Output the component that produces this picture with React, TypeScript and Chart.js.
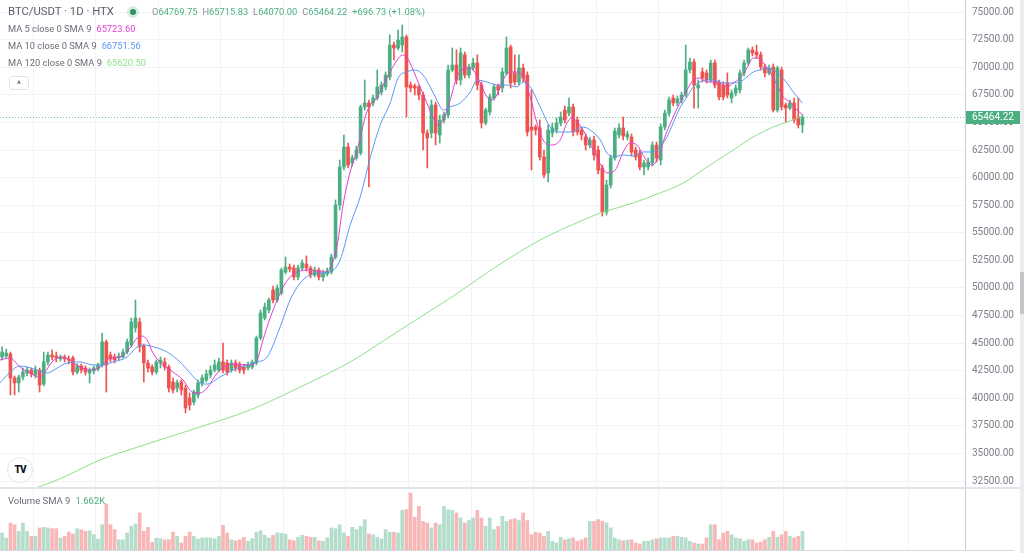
import React, { useEffect, useRef } from 'react';
import { Chart, registerables } from 'chart.js';

Chart.register(...registerables);

// ---------- DATA ----------
const openPrices = [
  43750, 43840, 44020, 41850, 41400, 41940, 42300, 42570, 42120, 42570,
  41300, 43300, 43930, 43840, 43570, 43750, 43570, 43660, 42390, 42940,
  42750, 42300, 42480, 42660, 43030, 45110, 43930, 43750, 43660, 43750,
  44200, 44840, 46380, 46920, 44750, 43210, 42840, 42390, 43210, 43300,
  42840, 41490, 40940, 41490, 40940, 40040, 39670, 40310, 41400, 41670,
  42120, 42570, 42570, 43300, 43210, 42570, 43210, 43030, 42840, 42750,
  42840, 43210, 45470, 47280, 48010, 49820, 48910, 49550, 51450, 51900,
  51810, 51000, 51810, 52170, 51810, 51180, 51630, 51000, 51270, 51450,
  52810, 57520, 60960, 62770, 61320, 61780, 62230, 66400, 66760, 66760,
  67210, 67750, 68210, 69110, 72010, 71740, 72010, 72740, 68390, 68300,
  68210, 67480, 64040, 64040, 66580, 63860, 65220, 65670, 69750, 70200,
  68840, 71110, 69290, 69930, 70380, 68390, 64950, 65940, 67210, 68300,
  68120, 69480, 71830, 69480, 68660, 69930, 69290, 64580, 64580, 64490,
  61870, 60420, 64040, 64310, 64950, 66120, 65850, 66400, 65220, 64310,
  63680, 62950, 63410, 62500, 60870, 56880, 59330, 61780, 63860, 64490,
  63680, 63680, 62500, 62230, 60960, 60960, 61320, 62950, 61590, 64580,
  65850, 67210, 66760, 67030, 67480, 69750, 70470, 68120, 69570, 69480,
  68840, 70380, 68570, 68390, 68570, 67210, 67660, 67940, 69480, 70380,
  71560, 71380, 71110, 70020, 69480, 70020, 66120, 69750, 66580, 66300,
  66760, 65490, 64769.75,
];
const highPrices = [
  44660, 44470, 44200, 42030, 42120, 42750, 42840, 42750, 42940, 42750,
  44200, 44200, 44380, 44200, 43930, 43930, 43840, 43840, 43120, 43120,
  42940, 42750, 42940, 43210, 45920, 45290, 44200, 44020, 44110, 44470,
  45380, 47280, 48910, 47280, 44930, 43480, 43030, 43480, 43750, 43660,
  43030, 41850, 41670, 41670, 41210, 40490, 40760, 41670, 42120, 42570,
  42940, 43480, 43660, 45020, 43480, 43480, 43480, 43300, 43030, 43300,
  43480, 45650, 48010, 48640, 49090, 50180, 50270, 51810, 52810, 52170,
  52080, 52080, 52540, 52900, 51990, 51900, 51810, 51630, 51810, 53080,
  57970, 61590, 63860, 63130, 62050, 62860, 66580, 68840, 67030, 67480,
  69750, 68660, 69570, 72920, 72280, 73370, 73820, 72920, 68660, 68480,
  68390, 67750, 64310, 67030, 66850, 65670, 65940, 70200, 71740, 71560,
  71740, 71380, 70290, 70830, 71110, 68660, 66300, 67570, 68480, 68480,
  69930, 72740, 72010, 71110, 71110, 70290, 69570, 67940, 64770, 65220,
  62500, 64770, 64950, 65400, 65940, 66490, 67210, 66670, 65490, 64580,
  63950, 63680, 63770, 62860, 61140, 59780, 62050, 64490, 64860, 65490,
  64220, 63950, 62770, 62500, 61590, 61780, 63230, 63230, 64860, 66120,
  67300, 67480, 67390, 67750, 72010, 70830, 70740, 68840, 69930, 69750,
  70650, 70650, 68840, 68660, 69480, 67940, 68390, 69750, 70650, 71740,
  71830, 72010, 71380, 70290, 70200, 70290, 70110, 70020, 66760, 67030,
  67210, 67210, 65715.83,
];
const lowPrices = [
  43480, 43660, 40310, 40310, 40580, 41670, 42030, 41940, 41850, 40580,
  41120, 43030, 43480, 43300, 43390, 43300, 43120, 42120, 42210, 42300,
  42120, 41400, 42210, 42480, 42840, 40580, 43300, 43210, 43480, 43660,
  44020, 44660, 46010, 44200, 41490, 42390, 42120, 42210, 42750, 42570,
  40580, 40490, 40580, 40310, 38680, 38950, 39400, 40040, 41120, 41490,
  41850, 42390, 42390, 42300, 42120, 42390, 42480, 42300, 42210, 42570,
  42660, 43030, 45290, 47100, 47740, 48640, 48730, 49370, 51270, 51450,
  50730, 50730, 51630, 51540, 50910, 51000, 50730, 50630, 51090, 51270,
  52630, 57070, 60690, 60870, 61050, 61590, 62050, 66120, 59150, 66490,
  67030, 67480, 67940, 68840, 70650, 71560, 71380, 65490, 67750, 67480,
  67030, 62500, 60870, 63590, 62950, 63130, 64950, 65400, 69570, 68480,
  68390, 69020, 69020, 69750, 67940, 64490, 64770, 65670, 67030, 67480,
  67750, 69290, 68120, 68390, 68390, 68660, 63770, 60690, 63860, 61590,
  59960, 59600, 63680, 64040, 64670, 64950, 65580, 63770, 63860, 63410,
  62500, 62680, 61590, 60330, 56520, 56610, 59060, 61590, 63590, 63410,
  63410, 61960, 61590, 60690, 60240, 60690, 61050, 61410, 61140, 64310,
  65580, 66490, 66490, 66760, 67300, 69480, 66300, 66300, 68660, 68570,
  68660, 68120, 67030, 67030, 67210, 66760, 67390, 67660, 69200, 70200,
  71020, 70830, 69750, 69110, 69290, 65940, 65940, 66120, 65040, 66120,
  64950, 64490, 64070,
];
const closePrices = [
  44200, 44110, 41850, 41400, 41940, 42390, 42570, 42210, 42570, 41210,
  43300, 43930, 43750, 43660, 43750, 43570, 43480, 42390, 42940, 42570,
  42390, 42570, 42750, 43030, 45110, 43030, 43570, 43480, 43840, 44200,
  45110, 46920, 47280, 44660, 43210, 42750, 42390, 43300, 43480, 42840,
  40940, 40760, 41400, 40760, 39130, 39400, 40580, 41400, 41850, 42210,
  42570, 43030, 43300, 42570, 42390, 43210, 42750, 42570, 42570, 43030,
  43300, 45470, 47740, 48280, 48910, 48910, 50000, 51630, 51900, 51720,
  51000, 51810, 52270, 51810, 51180, 51630, 51000, 51360, 51540, 52810,
  57520, 60960, 62770, 61140, 61780, 62500, 66400, 66760, 66400, 67210,
  68210, 68390, 69290, 72010, 71740, 72460, 72740, 68210, 68120, 68120,
  67480, 64040, 63590, 66580, 64040, 65220, 65670, 69750, 70200, 68840,
  71290, 69290, 70020, 70380, 68390, 64950, 66120, 67300, 68210, 67940,
  69570, 71740, 68570, 68660, 69930, 69020, 64130, 64310, 64310, 61870,
  60240, 64310, 64490, 64950, 65490, 65220, 66400, 64130, 64130, 63860,
  62950, 63410, 62050, 60690, 56880, 59330, 61780, 64220, 64490, 63770,
  63950, 62320, 61870, 60960, 61320, 61410, 62950, 61780, 64580, 65850,
  67030, 66760, 67120, 67480, 69750, 70470, 68390, 68390, 69020, 68840,
  70380, 68390, 67300, 67300, 67480, 67660, 68120, 69480, 70380, 71560,
  71290, 71110, 70020, 69480, 69930, 66120, 69930, 66400, 66300, 66760,
  65220, 64770, 65464.22,
];
const volumes = [
  1410, 1000, 2240, 2100, 1550, 2240, 1550, 1140, 1140, 1830,
  1880, 1830, 1770, 1770, 1000, 1140, 1490, 1330, 1770, 1690,
  1550, 1600, 1270, 910, 2100, 3820, 2100, 1690, 850, 850,
  1410, 1960, 2160, 3070, 1550, 1880, 640, 1000, 940, 850,
  850, 1490, 1140, 580, 1140, 1490, 1140, 910, 1000, 1000,
  1000, 940, 1140, 2050, 1410, 850, 770, 850, 1050, 720,
  940, 1470, 1600, 1220, 1000, 1220, 1410, 1380, 1330, 850,
  770, 1050, 1220, 1140, 1050, 1050, 770, 720, 1000, 1830,
  1770, 2100, 1410, 1140, 1880, 1690, 1960, 2520, 1330, 1270,
  1050, 910, 1690, 1470, 1470, 1410, 3290, 3350, 4730, 2710,
  3620, 2380, 2240, 1830, 2240, 2100, 3620, 3350, 3290, 3070,
  2660, 2240, 2440, 2660, 3290, 2660, 1960, 2660, 1690, 1960,
  2790, 2380, 2520, 2600, 2440, 3070, 2440, 1270, 1470, 1410,
  1140, 1550, 720, 580, 1050, 850, 940, 1000, 720, 850,
  1000, 2380, 2380, 2520, 2380, 2240, 1830, 1000, 850, 770,
  830, 850, 580, 500, 720, 720, 850, 940, 1000, 1000,
  1000, 1140, 1140, 1050, 1000, 720, 580, 500, 500, 1000,
  2100, 2100, 850, 1410, 1550, 1270, 1000, 940, 720, 850,
  850, 580, 660, 850, 1050, 1550, 1050, 1270, 1550, 1140,
  1000, 1140, 1550,
];

const ma5Index = [
  -0.5, 1.9, 4.3, 6.7, 9.1, 10.3, 12.2, 14.6, 16.8, 18.7, 21.1, 23.5, 25.9, 28.3, 30.7,
  32.4, 33.6, 34.8, 36.2, 38.6, 41, 43.4, 45.6, 47.5, 49.2, 51.6, 55.4, 59.5, 61.2, 62.6,
  64.3, 66, 67.4, 69.1, 70.8, 73.9, 77, 78.7, 80.4, 81.8, 83.5, 85.2, 87.5, 90, 92.4,
  94.8, 96, 97.1, 98.6, 100.3, 101.9, 103.4, 104.6, 105.8, 107.5, 109.1, 111.5, 113, 114.7, 116.3,
  117.5, 118.7, 120.2, 121.9, 123.5, 125, 126.7, 128.3, 129.8, 131.5, 133.9, 135.5, 136.7, 138.2, 140.3,
  141.8, 143.9, 145.1, 147.1, 149, 150.6, 152.3, 154.2, 155.9, 157.4, 159, 161, 162.6, 164.3, 165.8,
  167.4, 169.1, 170.6, 172.2, 173.9, 175.4, 177, 178.7, 180.2, 181.4, 182.6, 184.2, 185.9, 187.4, 189,
  190.7, 192,
];
const ma5Values = [
  43480, 43660, 42840, 42300, 41940, 42390, 43390, 43750, 43300, 42840, 42570, 42840, 43660, 43750, 44570,
  45470, 45650, 45290, 44110, 43030, 42390, 41670, 40580, 40490, 40940, 42300, 43120, 43030, 43480, 45290,
  47280, 48910, 50090, 50990, 51450, 51630, 51450, 51810, 53890, 57520, 60510, 62500, 65940, 67300, 69110,
  70650, 71100, 70920, 69750, 68210, 66760, 65490, 64760, 65220, 67030, 69110, 69930, 69750, 68570, 67300,
  67030, 67480, 68840, 69570, 69570, 69110, 67300, 64950, 63410, 62950, 63410, 64950, 65400, 64950, 63680,
  62500, 60960, 60420, 60690, 62320, 63130, 62950, 61780, 61140, 61780, 63680, 65490, 66760, 67930, 68840,
  69020, 68660, 68660, 68570, 68210, 68570, 69020, 69930, 70830, 70830, 70380, 69570, 68390, 67300, 66850,
  66120, 65723.6,
];
const ma10Index = [
  -0.5, 1.9, 4.3, 6, 8.4, 10.8, 13.2, 15.6, 18.7, 21.8, 24.2, 26.6, 30, 32.4, 33.8,
  37.2, 39.6, 42.7, 45.1, 47.5, 49.2, 52.3, 55.4, 58.8, 61.2, 63.6, 66.7, 69.1, 71.5, 73.9,
  77, 78.7, 81.1, 83.5, 85.9, 88.3, 90.7, 93.1, 95, 97.1, 99.1, 101, 102.7, 104.3, 105.8,
  107.5, 109.9, 112.3, 114, 116.3, 118.7, 121.1, 123.5, 125, 126.7, 129.1, 131.5, 133.9, 136.3, 139.4,
  141.1, 143.5, 145.1, 146.6, 149, 151.4, 153.8, 156.2, 157.8, 159.5, 161, 162.6, 164.3, 165.8, 167.4,
  169.1, 170.6, 172.2, 173.9, 175.4, 177, 178.7, 180.2, 181.8, 183.5, 185, 186.6, 188.3, 189.8, 191.4,
  192,
];
const ma10Values = [
  41400, 42390, 42940, 42840, 42570, 42300, 42750, 43210, 43300, 43030, 43030, 43300, 43750, 44660, 44840,
  44570, 44200, 43300, 42300, 41400, 41300, 41940, 42570, 43030, 43300, 43750, 46470, 48910, 50450, 51180,
  51360, 51450, 52540, 55710, 58240, 61780, 64760, 66760, 69020, 69570, 69750, 69290, 68210, 67030, 66120,
  66400, 66760, 67750, 68840, 68660, 68390, 68390, 68210, 68660, 68210, 66400, 64580, 64130, 64130, 64580,
  64310, 63410, 62230, 61870, 62050, 61960, 62320, 62320, 62770, 63680, 64950, 66300, 67300, 68210, 68660,
  68840, 68840, 68660, 68570, 68570, 68660, 69110, 69570, 69750, 69930, 69750, 69290, 68570, 67750, 67030,
  66751.56,
];
const ma120Index = [-0.5, 13.2, 23.5, 35.5, 47.5, 59.5, 71.5, 83.5, 95.5, 107.5, 119.5, 129.1, 139.4, 143.5, 151.4, 157.8, 163.4, 169.1, 175.4, 180.2, 185, 188.3, 191.4, 192];
const ma120Values = [30800, 32610, 34420, 35960, 37410, 38950, 41030, 43300, 46200, 49090, 52170, 54350, 56160, 56790, 57700, 58600, 59510, 60960, 62500, 63680, 64580, 65040, 65490, 65620.5];

const priceTicks = [75000, 72500, 70000, 67500, 65000, 62500, 60000, 57500, 55000, 52500, 50000, 47500, 45000, 42500, 40000, 37500, 35000, 32500];
const timeGridIndex = [7.5, 22.5, 37.5, 52.5, 67.5, 82.5, 97.5, 112.5, 127.5, 142.5, 157.5, 172.5, 187.5, 202.5, 217.5];

const symbolTitle = 'BTC/USDT · 1D · HTX';
const changeText = '+696.73 (+1.08%)';
const volumeSmaText = '1.662K';

// ---------- STYLE ----------
const UP = '#4caf82';
const DOWN = '#ef5350';
const UP_VOL = 'rgba(76,175,130,0.42)';
const DOWN_VOL = 'rgba(239,83,80,0.42)';
const MA5_COLOR = '#e040cf';
const MA10_COLOR = '#5b96f2';
const MA120_COLOR = '#8fdf8a';
const GRID = '#f2f3f6';
const AXIS = '#c9ccd4';
const LABEL = '#7b7f89';
const FONT = 'Roboto, "Noto Sans", sans-serif';

const X_MIN = -0.5;
const X_MAX = 231;
const Y_MIN = 31884;
const Y_MAX = 76087;

export default function App() {
  const priceRef = useRef<HTMLCanvasElement | null>(null);
  const volRef = useRef<HTMLCanvasElement | null>(null);

  useEffect(() => {
    const n = closePrices.length;
    const idx = closePrices.map((_, i) => i);
    const isUp = idx.map((i) => closePrices[i] >= openPrices[i]);
    const candleColors = isUp.map((u) => (u ? UP : DOWN));
    const volColors = isUp.map((u) => (u ? UP_VOL : DOWN_VOL));
    const lastPrice = closePrices[n - 1];

    const xScale = (): any => ({
      type: 'linear',
      min: X_MIN,
      max: X_MAX,
      offset: false,
      grid: { color: GRID, drawTicks: false, offset: false },
      border: { display: false },
      ticks: { display: false },
      afterBuildTicks: (s: any) => {
        s.ticks = timeGridIndex.map((v) => ({ value: v }));
      },
      afterFit: (s: any) => {
        s.height = 0;
        s.paddingLeft = 0;
        s.paddingRight = 0;
        s.paddingTop = 0;
        s.paddingBottom = 0;
      },
    });

    const lastPricePlugin = {
      id: 'lastPrice',
      beforeDatasetsDraw(chart: any) {
        const { ctx, chartArea, scales } = chart;
        const y = Math.round(scales.y.getPixelForValue(lastPrice)) + 0.5;
        ctx.save();
        ctx.strokeStyle = 'rgba(76,175,130,0.75)';
        ctx.lineWidth = 1;
        ctx.setLineDash([1, 2]);
        ctx.beginPath();
        ctx.moveTo(chartArea.left, y);
        ctx.lineTo(chartArea.right, y);
        ctx.stroke();
        ctx.restore();
      },
      afterDraw(chart: any) {
        const { ctx, chartArea, scales } = chart;
        const y = Math.round(scales.y.getPixelForValue(lastPrice));
        ctx.save();
        ctx.fillStyle = UP;
        ctx.fillRect(chartArea.right + 1, y - 6, 54, 13);
        ctx.fillStyle = '#ffffff';
        ctx.font = '10px ' + FONT;
        ctx.textBaseline = 'middle';
        ctx.textAlign = 'left';
        ctx.fillText(lastPrice.toFixed(2), chartArea.right + 7, y + 0.5);
        ctx.restore();
      },
    };

    const lineDs = (label: string, xs: number[], ys: number[], color: string) => ({
      type: 'line',
      label,
      data: xs.map((x, i) => ({ x, y: ys[i] })),
      borderColor: color,
      borderWidth: 1,
      pointRadius: 0,
      cubicInterpolationMode: 'monotone',
      fill: false,
      order: 0,
    });

    const priceChart = new Chart(priceRef.current as HTMLCanvasElement, {
      type: 'bar',
      data: {
        datasets: [
          lineDs('MA 120', ma120Index, ma120Values, MA120_COLOR),
          lineDs('MA 10', ma10Index, ma10Values, MA10_COLOR),
          lineDs('MA 5', ma5Index, ma5Values, MA5_COLOR),
          {
            type: 'bar',
            label: 'body',
            data: idx.map((i) => ({ x: i, y: [openPrices[i], closePrices[i]] })),
            backgroundColor: candleColors,
            barThickness: 3,
            grouped: false,
            minBarLength: 1,
            borderWidth: 0,
            order: 1,
          },
          {
            type: 'bar',
            label: 'wick',
            data: idx.map((i) => ({ x: i, y: [lowPrices[i], highPrices[i]] })),
            backgroundColor: candleColors,
            barThickness: 1,
            grouped: false,
            borderWidth: 0,
            order: 2,
          },
        ] as any,
      },
      options: {
        animation: false,
        responsive: false,
        maintainAspectRatio: false,
        layout: { padding: 0, autoPadding: false },
        plugins: { legend: { display: false }, tooltip: { enabled: false } },
        scales: {
          x: xScale(),
          y: {
            type: 'linear',
            position: 'right',
            min: Y_MIN,
            max: Y_MAX,
            grid: { color: GRID, drawTicks: false },
            border: { display: true, color: AXIS },
            ticks: {
              padding: 7,
              color: LABEL,
              font: { family: FONT, size: 10 },
              callback: (v: any) => Number(v).toFixed(2),
            },
            afterBuildTicks: (s: any) => {
              s.ticks = priceTicks.map((v) => ({ value: v }));
            },
            afterFit: (s: any) => {
              s.width = 59;
              s.paddingTop = 0;
              s.paddingBottom = 0;
            },
          },
        },
      } as any,
      plugins: [lastPricePlugin],
    } as any);

    const volChart = new Chart(volRef.current as HTMLCanvasElement, {
      type: 'bar',
      data: {
        datasets: [
          {
            label: 'Volume',
            data: idx.map((i) => ({ x: i, y: volumes[i] })),
            backgroundColor: volColors,
            barThickness: 3,
            borderWidth: 0,
          },
        ] as any,
      },
      options: {
        animation: false,
        responsive: false,
        maintainAspectRatio: false,
        layout: { padding: { top: 0, bottom: 3, left: 0, right: 0 }, autoPadding: false },
        plugins: { legend: { display: false }, tooltip: { enabled: false } },
        scales: {
          x: xScale(),
          y: {
            type: 'linear',
            position: 'right',
            min: 0,
            max: 5060,
            grid: { display: false },
            border: { display: true, color: AXIS },
            ticks: { display: false },
            afterFit: (s: any) => {
              s.width = 59;
              s.paddingTop = 0;
              s.paddingBottom = 0;
            },
          },
        },
      } as any,
    } as any);

    return () => {
      priceChart.destroy();
      volChart.destroy();
    };
  }, []);

  const last = closePrices.length - 1;
  const textGrey = '#6a6d78';
  const maRow = (top: number, text: string, value: string, color: string) => (
    <div
      style={{
        position: 'absolute',
        left: 8,
        top,
        fontSize: 9.3,
        lineHeight: '12px',
        whiteSpace: 'nowrap',
        color: textGrey,
      }}
    >
      <span>{text}</span>
      <span style={{ color, marginLeft: 5 }}>{value}</span>
    </div>
  );
  const ohlcItem = (letter: string, value: string) => (
    <span>
      <span style={{ color: '#8a8d96' }}>{letter}</span>
      <span style={{ color: UP }}>{value}</span>
    </span>
  );

  return (
    <div
      style={{
        position: 'fixed',
        left: 0,
        top: 0,
        width: 1024,
        height: 553,
        background: '#ffffff',
        overflow: 'hidden',
        fontFamily: FONT,
      }}
    >
      <canvas
        ref={priceRef}
        width={1024}
        height={488}
        style={{ position: 'absolute', left: 0, top: 0, width: 1024, height: 488, display: 'block' }}
      />
      <canvas
        ref={volRef}
        width={1024}
        height={64}
        style={{ position: 'absolute', left: 0, top: 489, width: 1024, height: 64, display: 'block' }}
      />

      {/* pane separators */}
      <div style={{ position: 'absolute', left: 0, top: 487, width: 1020, height: 2, background: '#e0e3eb' }} />
      <div style={{ position: 'absolute', left: 0, top: 550, width: 1014, height: 1, background: '#d6d8de' }} />

      {/* right scroll strip */}
      <div style={{ position: 'absolute', left: 1020, top: 0, width: 4, height: 553, background: '#ececee' }} />
      <div style={{ position: 'absolute', left: 1020, top: 272, width: 4, height: 42, background: '#c4c6cc' }} />

      {/* legend */}
      <div
        style={{
          position: 'absolute',
          left: 8,
          top: 5,
          fontSize: 11.3,
          lineHeight: '14px',
          whiteSpace: 'nowrap',
          color: '#5d606b',
        }}
      >
        {symbolTitle}
      </div>
      <div
        style={{
          position: 'absolute',
          left: 127,
          top: 6,
          width: 12,
          height: 12,
          borderRadius: 6,
          background: 'rgba(76,175,130,0.22)',
        }}
      >
        <div
          style={{
            position: 'absolute',
            left: 3,
            top: 3,
            width: 6,
            height: 6,
            borderRadius: 3,
            background: '#2f8f65',
          }}
        />
      </div>
      <div
        style={{
          position: 'absolute',
          left: 152,
          top: 6,
          fontSize: 9.3,
          lineHeight: '12px',
          whiteSpace: 'nowrap',
          display: 'flex',
          gap: 5,
        }}
      >
        {ohlcItem('O', openPrices[last].toFixed(2))}
        {ohlcItem('H', highPrices[last].toFixed(2))}
        {ohlcItem('L', lowPrices[last].toFixed(2))}
        {ohlcItem('C', closePrices[last].toFixed(2))}
        <span style={{ color: UP }}>{changeText}</span>
      </div>
      {maRow(23, 'MA 5 close 0 SMA 9', ma5Values[ma5Values.length - 1].toFixed(2), MA5_COLOR)}
      {maRow(40, 'MA 10 close 0 SMA 9', ma10Values[ma10Values.length - 1].toFixed(2), MA10_COLOR)}
      {maRow(57, 'MA 120 close 0 SMA 9', ma120Values[ma120Values.length - 1].toFixed(2), MA120_COLOR)}
      <div
        style={{
          position: 'absolute',
          left: 9,
          top: 76,
          width: 20,
          height: 14,
          border: '1px solid #e0e3eb',
          borderRadius: 3,
          boxSizing: 'border-box',
          background: '#fff',
          fontSize: 9,
          lineHeight: '14px',
          textAlign: 'center',
          color: '#333',
        }}
      >
        ^
      </div>

      {/* TradingView logo */}
      <div
        style={{
          position: 'absolute',
          left: 7,
          top: 457,
          width: 26,
          height: 26,
          borderRadius: 13,
          border: '1px solid #e6e7ea',
          boxSizing: 'border-box',
          background: '#fff',
          fontSize: 10,
          fontWeight: 900,
          lineHeight: '24px',
          textAlign: 'center',
          color: '#131722',
          letterSpacing: -1,
        }}
      >
        TV
      </div>

      {/* volume legend */}
      <div
        style={{
          position: 'absolute',
          left: 8,
          top: 495,
          fontSize: 9.5,
          lineHeight: '12px',
          whiteSpace: 'nowrap',
          color: textGrey,
        }}
      >
        <span>Volume SMA 9</span>
        <span style={{ color: UP, marginLeft: 5 }}>{volumeSmaText}</span>
      </div>
    </div>
  );
}
